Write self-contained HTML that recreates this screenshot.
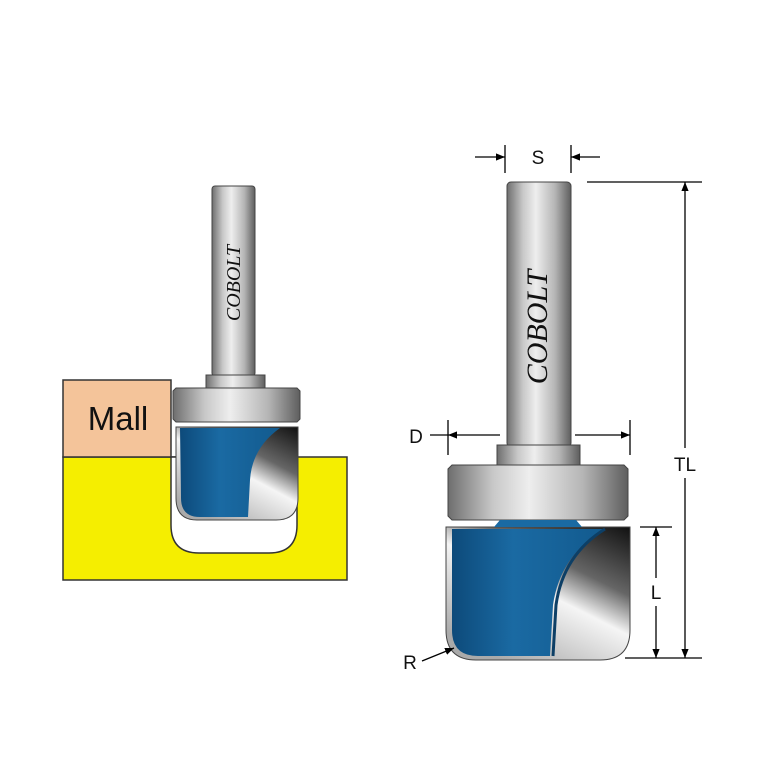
<!DOCTYPE html>
<html><head><meta charset="utf-8"><style>html,body{margin:0;padding:0;background:#fff}svg{display:block}</style></head><body>
<svg width="770" height="770" viewBox="0 0 770 770" xmlns="http://www.w3.org/2000/svg">
<defs>
<linearGradient id="m" x1="0" x2="1" y1="0" y2="0">
<stop offset="0" stop-color="#6e6e6e"/><stop offset="0.25" stop-color="#c8c8c8"/><stop offset="0.45" stop-color="#eeeeee"/><stop offset="0.75" stop-color="#b5b5b5"/><stop offset="1" stop-color="#5e5e5e"/></linearGradient>
<linearGradient id="b" x1="0" x2="1" y1="0" y2="0">
<stop offset="0" stop-color="#0d4a7a"/><stop offset="0.4" stop-color="#1a6aa3"/><stop offset="1" stop-color="#125a8e"/></linearGradient>
<linearGradient id="s" x1="1" x2="0.3" y1="0" y2="1">
<stop offset="0" stop-color="#111"/><stop offset="0.35" stop-color="#666"/><stop offset="0.55" stop-color="#f5f5f5"/><stop offset="1" stop-color="#aaa"/></linearGradient>
<marker id="a" viewBox="0 0 10 10" refX="10" refY="5" markerWidth="9" markerHeight="9" orient="auto-start-reverse" markerUnits="userSpaceOnUse"><path d="M0,1 L10,5 L0,9z" fill="#000"/></marker>
</defs>

<!-- LEFT -->
<rect x="63" y="457" width="284" height="123" fill="#f5ee00" stroke="#333" stroke-width="1.5"/>
<path d="M171,457 V525 Q171,553 199,553 H269 Q297,553 297,525 V457 Z" fill="#fff" stroke="#333" stroke-width="1.5"/>
<rect x="63" y="380" width="108" height="77" fill="#f4c49a" stroke="#333" stroke-width="1.5"/>
<text x="118" y="430" font-family="Liberation Sans, sans-serif" font-size="33" text-anchor="middle" fill="#111">Mall</text>
<rect x="212" y="186" width="43" height="190" rx="3" fill="url(#m)" stroke="#444"/>
<text transform="translate(240,283) rotate(-90)" font-family="Liberation Serif, serif" font-style="italic" font-size="20" text-anchor="middle" fill="#111">COBOLT</text>
<rect x="206" y="375" width="59" height="13" fill="url(#m)" stroke="#444"/>
<path d="M176,388 H297 L300,391 V419 L297,422 H176 L173,419 V391Z" fill="url(#m)" stroke="#444"/>
<path d="M176,427 H298 V498 Q298,520 276,520 H197 Q176,520 176,498Z" fill="url(#s)" stroke="#444"/>
<path d="M180,428 H280 Q252,448 250,480 L248,517 H200 Q181,517 181,498Z" fill="url(#b)"/>

<!-- RIGHT -->
<rect x="507" y="182" width="64" height="265" rx="4" fill="url(#m)" stroke="#444"/>
<text transform="translate(547,327) rotate(-90)" font-family="Liberation Serif, serif" font-style="italic" font-size="30" text-anchor="middle" fill="#111">COBOLT</text>
<rect x="497" y="445" width="83" height="20" fill="url(#m)" stroke="#444"/>
<path d="M452,465 H624 L628,469 V516 L624,520 H452 L448,516 V469Z" fill="url(#m)" stroke="#444"/>
<path d="M446,527 H630 V630 Q630,660 600,660 H476 Q446,660 446,630Z" fill="url(#s)" stroke="#444"/>
<path d="M500,520 H576 L582,527 H494Z" fill="#1a6aa3"/>
<path d="M452,529 H605 Q560,555 553,605 L550,656 H478 Q452,656 452,630Z" fill="url(#b)"/>
<path d="M605,529 Q563,555 556,605 L553,656" fill="none" stroke="#0d3f66" stroke-width="3"/>

<g stroke="#000" stroke-width="1.3" fill="none">
<line x1="505" y1="145" x2="505" y2="173"/><line x1="571" y1="145" x2="571" y2="173"/>
<line x1="475" y1="157" x2="505" y2="157" marker-end="url(#a)"/>
<line x1="600" y1="157" x2="571" y2="157" marker-end="url(#a)"/>
<line x1="587" y1="182" x2="702" y2="182"/>
<line x1="625" y1="658" x2="702" y2="658"/>
<line x1="685" y1="448" x2="685" y2="182" marker-end="url(#a)"/>
<line x1="685" y1="478" x2="685" y2="658" marker-end="url(#a)"/>
<line x1="640" y1="527" x2="672" y2="527"/>
<line x1="656" y1="578" x2="656" y2="527" marker-end="url(#a)"/>
<line x1="656" y1="606" x2="656" y2="658" marker-end="url(#a)"/>
<line x1="448" y1="420" x2="448" y2="455"/><line x1="630" y1="420" x2="630" y2="455"/>
<line x1="430" y1="435" x2="448" y2="435"/>
<line x1="500" y1="435" x2="448" y2="435" marker-end="url(#a)"/>
<line x1="575" y1="435" x2="630" y2="435" marker-end="url(#a)"/>
<line x1="422" y1="661" x2="454" y2="648" marker-end="url(#a)"/>
</g>
<g font-family="Liberation Sans, sans-serif" font-size="19" fill="#111" text-anchor="middle">
<text x="538" y="164">S</text>
<text x="416" y="443">D</text>
<text x="685" y="471">TL</text>
<text x="656" y="599">L</text>
<text x="410" y="669">R</text>
</g>
</svg>
</body></html>
